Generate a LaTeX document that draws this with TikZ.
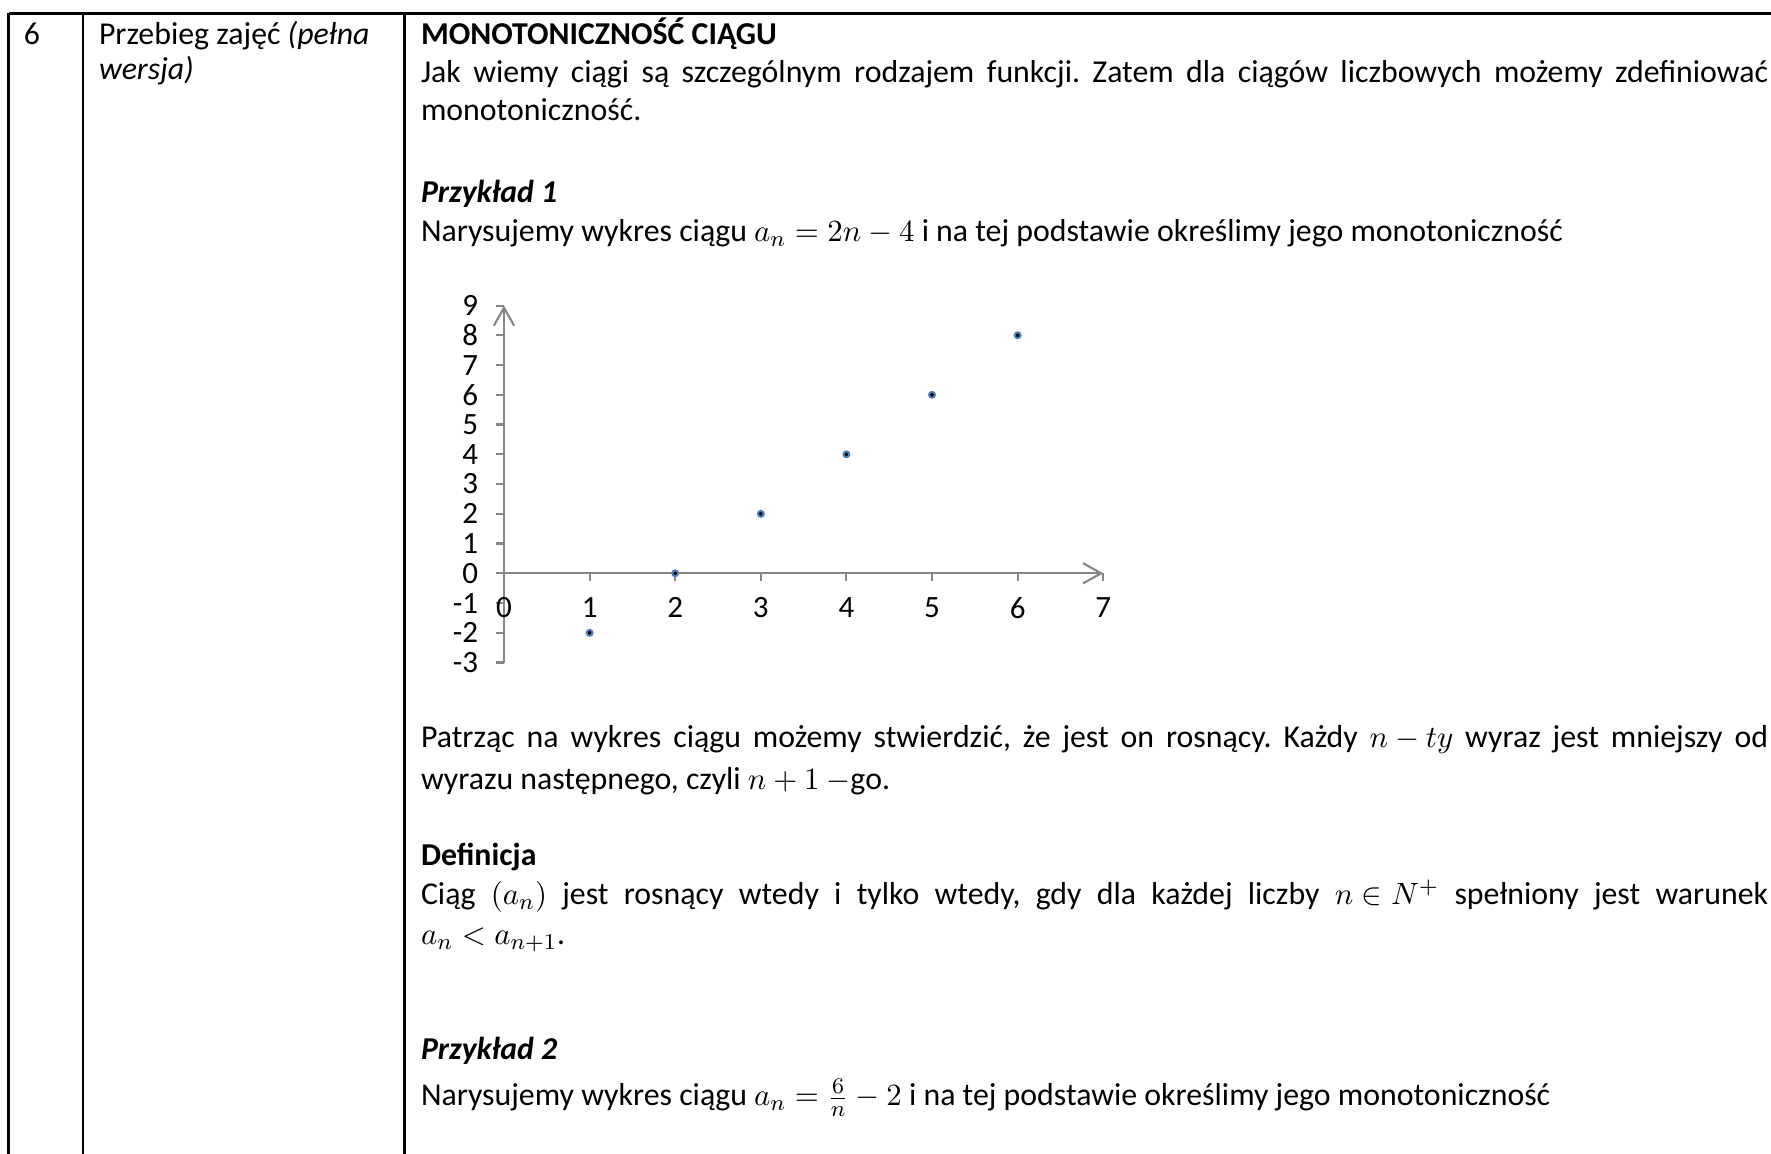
\documentclass[tikz,border=0pt]{standalone}
\usepackage{fontspec}
\setmainfont{Carlito}
\usetikzlibrary{arrows.meta}
\definecolor{axisgray}{HTML}{868686}
\definecolor{dotblue}{HTML}{4A7EBB}
\newlength\JW
\setlength\JW{478.2pt}
\frenchspacing
\thickmuskip=5mu
\medmuskip=4mu
\begin{document}
\begin{tikzpicture}[x=0.355pt, y=-0.355pt,
  font=\fontsize{11.3}{13.8}\selectfont,
  every node/.style={inner sep=0pt, outer sep=0pt},
  txt/.style={anchor=base west},
  rule/.style={line width=0.9pt, black},
  axisline/.style={axisgray, line width=0.75pt},
  axisarrow/.style={axisline, -{Straight Barb[length=6.4pt,width=7.2pt,line width=0.75pt]}},
  ylab/.style={anchor=east, font=\fontsize{11}{13}\selectfont},
  xlab/.style={anchor=center, font=\fontsize{11}{13}\selectfont},
  dot/.style={circle, draw=dotblue, fill=black, line width=0.7pt, minimum size=2.1pt}]
\useasboundingbox (0,0) rectangle (1771,1154);
\fill[white] (0,0) rectangle (1771,1154);
% table rules
\coordinate (tl) at (8.5,13.5);
\coordinate (tr) at (1771,13.5);
\draw[rule] (tl) -- (tr);
\draw[rule] (8.5,13.5) -- (8.5,1154);
\draw[rule] (83,13.5) -- (83,1154);
\draw[rule] (404.3,13.5) -- (404.3,1154);
% column 1 and 2
\node[txt] (nr) at (24,45) {6};
\node[txt] (c2a) at (99,45) {Przebieg zajęć \textit{(pełna}};
\node[txt] (c2b) at (99,80) {\textit{wersja)}};
% column 3 text
\node[txt] (h1) at (421,45) {\textbf{MONOTONICZNOŚĆ CIĄGU}};
\node[txt] (p1a) at (421,83) {\makebox[\JW][s]{Jak wiemy ciągi są szczególnym rodzajem funkcji. Zatem dla ciągów liczbowych możemy zdefiniować}};
\node[txt] (p1b) at (421,121) {monotoniczność.};
\node[txt] (h2) at (421,203) {\textbf{\textit{Przykład 1}}};
\node[txt] (p2) at (421,242) {Narysujemy wykres ciągu $a_n = 2n - 4$ i na tej podstawie określimy jego monotoniczność};
\node[txt] (p3a) at (421,748) {\makebox[\JW][s]{Patrząc na wykres ciągu możemy stwierdzić, że jest on rosnący. Każdy $n - ty$ wyraz jest mniejszy od}};
\node[txt] (p3b) at (421,790) {wyrazu następnego, czyli $n+1\>{-}$go.};
\node[txt] (h3) at (421,866) {\textbf{Definicja}};
\node[txt] (p4a) at (421,905) {\makebox[\JW][s]{Ciąg $(a_n)$ jest rosnący wtedy i tylko wtedy, gdy dla każdej liczby $n \in N^+$ spełniony jest warunek}};
\node[txt] (p4b) at (421,945) {$a_n < a_{n+1}$.};
\node[txt] (h4) at (421,1060) {\textbf{\textit{Przykład 2}}};
\node[txt] (p5) at (421,1106) {Narysujemy wykres ciągu $a_n = \frac{6}{n} - 2$ i na tej podstawie określimy jego monotoniczność};
% chart
\begin{scope}[shift={(504,573.3)}, x=30.39pt, y=10.56pt]
  \draw[axisarrow] (0,-3) -- (0,9);
  \foreach \v in {-3,...,9} \draw[axisline] (0,\v) -- ++(-2.84pt,0);
  \draw[axisarrow] (0,0) -- (7,0);
  \foreach \u in {1,...,7} \draw[axisline] (\u,0) -- ++(0,-2.84pt);
  \foreach \v [count=\i] in {-3,...,9}
    \node[ylab] (yl\i) at ([xshift=-9.2pt]0,\v) {\v};
  \foreach \u in {0,...,7}
    \node[xlab] (xl\u) at ([yshift=-12.3pt]\u,0) {\u};
  \foreach \u in {1,...,6}
    \node[dot] (pt\u) at (\u,{2*\u-4}) {};
\end{scope}
\end{tikzpicture}
\end{document}
